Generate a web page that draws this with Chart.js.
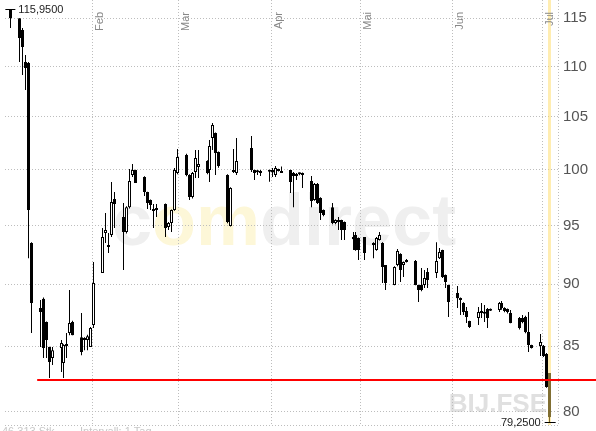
<!DOCTYPE html>
<html>
<head>
<meta charset="utf-8">
<script src="https://cdn.jsdelivr.net/npm/chart.js@4.4.1/dist/chart.umd.min.js"></script>
<style>
  html, body { margin: 0; padding: 0; background: #fff; }
  #wrap { position: relative; width: 596px; height: 431px; }
</style>
</head>
<body>
<div id="wrap"><canvas id="chart"></canvas></div>
<script>
// daily candles, BIJ.FSE
const dates = [
  '2008-01-04',
  '2008-01-07','2008-01-08','2008-01-09','2008-01-10','2008-01-11',
  '2008-01-14','2008-01-15','2008-01-16','2008-01-17','2008-01-18',
  '2008-01-21','2008-01-22','2008-01-23','2008-01-24','2008-01-25',
  '2008-01-28','2008-01-29','2008-01-30','2008-01-31','2008-02-01',
  '2008-02-04','2008-02-05','2008-02-06','2008-02-07','2008-02-08',
  '2008-02-11','2008-02-12','2008-02-13','2008-02-14','2008-02-15',
  '2008-02-18','2008-02-19','2008-02-20','2008-02-21','2008-02-22',
  '2008-02-25','2008-02-26','2008-02-27','2008-02-28','2008-02-29',
  '2008-03-03','2008-03-04','2008-03-05','2008-03-06','2008-03-07',
  '2008-03-10','2008-03-11','2008-03-12','2008-03-13','2008-03-14',
  '2008-03-17','2008-03-18','2008-03-19','2008-03-20',
  '2008-03-25','2008-03-26','2008-03-27','2008-03-28',
  '2008-03-31','2008-04-01','2008-04-02','2008-04-03','2008-04-04',
  '2008-04-07','2008-04-08','2008-04-09','2008-04-10','2008-04-11',
  '2008-04-14','2008-04-15','2008-04-16','2008-04-17','2008-04-18',
  '2008-04-21','2008-04-22','2008-04-23','2008-04-24','2008-04-25',
  '2008-04-28','2008-04-29','2008-04-30','2008-05-02',
  '2008-05-05','2008-05-06','2008-05-07','2008-05-08','2008-05-09',
  '2008-05-12','2008-05-13','2008-05-14','2008-05-15','2008-05-16',
  '2008-05-19','2008-05-20','2008-05-21','2008-05-22','2008-05-23',
  '2008-05-26','2008-05-27','2008-05-28','2008-05-29','2008-05-30',
  '2008-06-02','2008-06-03','2008-06-04','2008-06-05','2008-06-06',
  '2008-06-09','2008-06-10','2008-06-11','2008-06-12','2008-06-13',
  '2008-06-16','2008-06-17','2008-06-18','2008-06-19','2008-06-20',
  '2008-06-23','2008-06-24','2008-06-25','2008-06-26','2008-06-27',
  '2008-06-30','2008-07-01','2008-07-02','2008-07-03'
];
const open = [
  115.95,
  115.00, 113.77, 110.46, 110.35, 93.47,
  88.03, 88.80, 86.90, 84.92, 84.06,
  84.84, 83.68, 85.08, 86.02, 86.90,
  85.70, 85.47, 85.47, 84.92, 86.66,
  90.92, 94.34, 93.13, 94.16, 97.34,
  95.74, 94.43, 96.62, 99.52, 99.98,
  99.34, 97.97, 97.25, 96.45, 96.36,
  96.89, 94.86, 95.21, 96.36, 99.70,
  101.37, 99.52, 97.52, 99.80, 100.26,
  100.81, 99.98, 102.98, 103.45, 101.65,
  99.52, 94.95, 99.98, 99.70,
  102.03, 99.98, 99.90, 99.90,
  99.98, 99.98, 99.52, 100.07, 99.72,
  99.98, 99.70, 99.43, 99.60, 99.70,
  98.97, 97.25, 98.70, 97.43, 96.36,
  96.62, 95.21, 95.47, 95.47, 95.30,
  93.99, 94.16, 93.90, 93.99,
  93.30, 92.87, 93.73, 93.47, 91.59,
  89.92, 91.59, 92.53, 91.59, 91.85,
  91.93, 89.92, 89.92, 89.92, 91.00,
  90.92, 92.18, 92.87, 90.75, 89.92,
  89.26, 88.84, 88.44, 87.79, 86.98,
  87.22, 87.63, 87.71, 87.95, 87.95,
  87.87, 88.44, 88.03, 87.95, 87.63,
  87.22, 87.22, 87.30, 86.10, 85.08,
  85.00, 85.00, 84.37, 82.91
];
const high = [
  115.95,
  115.00, 113.98, 111.17, 110.46, 93.55,
  88.68, 88.90, 86.95, 84.95, 84.92,
  85.47, 85.15, 86.02, 89.50, 87.00,
  87.63, 85.70, 85.90, 86.50, 91.85,
  94.78, 96.09, 94.34, 98.88, 97.97,
  96.98, 96.70, 100.07, 100.54, 100.00,
  99.40, 98.00, 97.30, 96.89, 96.89,
  96.95, 95.30, 96.40, 100.17, 101.93,
  101.50, 99.60, 99.80, 101.84, 101.84,
  100.90, 102.79, 104.41, 103.50, 101.70,
  99.60, 98.40, 101.93, 102.98,
  103.17, 100.00, 99.98, 99.98,
  100.00, 100.17, 100.35, 100.10, 100.30,
  100.00, 99.80, 99.70, 99.75, 99.75,
  99.43, 98.80, 98.80, 97.50, 96.40,
  96.98, 95.55, 95.74, 95.50, 95.35,
  94.43, 94.43, 93.95, 94.00,
  93.55, 94.00, 94.43, 93.55, 91.60,
  91.50, 92.95, 92.60, 91.90, 92.10,
  92.02, 89.95, 91.34, 91.17, 91.34,
  93.55, 93.04, 92.90, 90.80, 89.95,
  89.84, 88.90, 88.50, 88.11, 87.00,
  88.11, 88.44, 88.27, 88.03, 88.00,
  88.52, 88.60, 88.10, 88.00, 87.87,
  87.30, 87.46, 87.40, 87.71, 85.10,
  85.94, 85.08, 84.45, 82.91
];
const low = [
  113.98,
  110.46, 109.14, 107.64, 92.18, 86.02,
  84.92, 84.06, 84.06, 82.53, 83.52,
  82.98, 82.53, 84.06, 85.86, 85.86,
  84.29, 84.68, 84.68, 84.92, 86.42,
  90.92, 93.47, 92.61, 93.99, 94.78,
  91.17, 94.30, 96.50, 99.34, 98.79,
  97.61, 96.45, 96.36, 94.78, 95.74,
  93.99, 94.60, 94.43, 96.30, 99.60,
  99.40, 97.25, 97.40, 99.25, 99.25,
  99.60, 98.88, 101.84, 99.52, 100.20,
  95.20, 94.90, 99.70, 99.52,
  99.80, 99.06, 99.52, 99.43,
  98.90, 99.34, 99.34, 99.85, 99.70,
  97.88, 96.62, 99.06, 99.50, 98.34,
  96.62, 97.20, 96.90, 95.47, 95.80,
  95.10, 95.10, 94.60, 93.73, 93.73,
  92.87, 92.80, 92.02, 92.02,
  92.18, 92.80, 93.70, 90.08, 89.50,
  89.90, 91.50, 90.17, 90.58, 91.80,
  89.90, 88.52, 89.40, 89.67, 89.67,
  90.50, 92.10, 90.50, 89.67, 87.30,
  88.03, 87.46, 87.46, 86.82, 86.42,
  86.66, 87.22, 86.90, 86.42, 87.80,
  87.71, 87.90, 87.70, 87.60, 86.80,
  86.30, 86.80, 86.00, 84.53, 84.80,
  84.22, 84.14, 81.80, 79.25
];
const close = [
  115.00,
  112.93, 111.99, 109.85, 96.36, 88.44,
  87.71, 84.84, 85.47, 83.75, 84.68,
  85.24, 85.08, 85.00, 86.82, 85.86,
  84.53, 85.63, 85.78, 86.42, 90.08,
  93.99, 94.60, 93.30, 97.07, 96.89,
  94.43, 96.62, 98.97, 99.98, 98.79,
  97.97, 96.98, 96.80, 96.27, 96.53,
  94.78, 95.21, 96.36, 99.98, 101.19,
  99.52, 97.52, 99.70, 101.09, 100.54,
  99.70, 102.22, 104.22, 101.56, 100.35,
  95.30, 98.34, 99.80, 100.81,
  99.98, 99.70, 99.78, 99.72,
  99.83, 99.75, 100.17, 99.90, 99.90,
  98.88, 99.43, 99.60, 99.72, 99.52,
  97.16, 98.70, 96.98, 96.09, 95.92,
  95.21, 95.47, 95.30, 94.60, 94.60,
  93.81, 92.87, 92.87, 92.61,
  93.47, 93.90, 94.16, 91.42, 90.08,
  91.42, 92.78, 91.17, 91.85, 92.02,
  89.92, 89.50, 89.50, 90.50, 90.33,
  91.93, 92.70, 90.58, 90.17, 88.52,
  88.84, 88.68, 87.71, 87.30, 86.50,
  87.71, 87.79, 87.58, 87.22, 87.82,
  88.44, 88.03, 87.79, 87.71, 86.82,
  86.42, 86.90, 86.10, 85.08, 84.84,
  85.31, 84.22, 81.84, 79.60
];

const yTicks = [80, 85, 90, 95, 100, 105, 110, 115];
const monthLabels = ['Feb', 'Mar', 'Apr', 'Mai', 'Jun', 'Jul'];
const monthStarts = ['2008-02-01', '2008-03-01', '2008-04-01', '2008-05-01', '2008-06-01', '2008-07-01'];
const supportLevel = 82.37;
const supportFrom = '2008-01-13';
const symbol = 'BIJ.FSE';

const FONT = "'Liberation Sans', Arial, sans-serif";
Chart.defaults.font.family = FONT;

// days since 2008-02-01
const dayOf = (s) => {
  const p = s.split('-').map(Number);
  return (Date.UTC(p[0], p[1] - 1, p[2]) - Date.UTC(2008, 1, 1)) / 864e5;
};
const xs = dates.map(d => dayOf(d) + 0.5);
const fmt = v => v.toFixed(4).replace('.', ',');

const bodyFill = open.map((o, i) => close[i] >= o ? '#ffffff' : '#000000');

const overlay = {
  id: 'overlay',
  afterDatasetsUpdate(chart) {
    // snap candle centres to the pixel grid so the 1px wicks stay crisp
    chart.data.datasets.forEach((ds, i) => {
      chart.getDatasetMeta(i).data.forEach(el => { el.x = Math.floor(el.x) + 0.5; });
    });
  },
  beforeDraw(chart) {
    const {ctx} = chart;
    ctx.save();
    // watermarks
    ctx.font = 'bold 72px ' + FONT;
    ctx.textBaseline = 'alphabetic';
    ctx.textAlign = 'left';
    let x = 112;
    [['c', '#efefef'], ['om', '#fdf7d8'], ['direct', '#efefef']].forEach(p => {
      ctx.fillStyle = p[1];
      ctx.fillText(p[0], x, 245);
      x += ctx.measureText(p[0]).width;
    });
    ctx.font = 'bold 26px ' + FONT;
    ctx.fillStyle = '#e0e0e0';
    ctx.textAlign = 'right';
    ctx.fillText(symbol, 547, 412);
    ctx.restore();
  },
  afterDatasetsDraw(chart) {
    const {ctx, chartArea} = chart;
    const xS = chart.scales.x, yS = chart.scales.y;
    ctx.save();

    // highlight of last day
    const last = xs.length - 1;
    const lx = Math.floor(xS.getPixelForValue(xs[last])) + 0.5;
    ctx.fillStyle = 'rgba(255,220,100,0.5)';
    ctx.fillRect(lx - 1.5, chartArea.top, 3, chartArea.bottom - chartArea.top);

    // support line
    const ry = yS.getPixelForValue(supportLevel);
    ctx.strokeStyle = '#ff0000';
    ctx.lineWidth = 2;
    ctx.beginPath();
    ctx.moveTo(xS.getPixelForValue(dayOf(supportFrom) + 0.5), ry);
    ctx.lineTo(chart.width, ry);
    ctx.stroke();

    // high / low marks
    const hi = high.indexOf(Math.max(...high));
    const lo = low.indexOf(Math.min(...low));
    ctx.strokeStyle = '#000';
    ctx.lineWidth = 1;
    ctx.fillStyle = '#222';
    ctx.font = '11px ' + FONT;
    ctx.textBaseline = 'middle';
    let hx = xS.getPixelForValue(xs[hi]), hy = Math.round(yS.getPixelForValue(high[hi])) + 0.5;
    ctx.beginPath(); ctx.moveTo(hx - 5, hy); ctx.lineTo(hx + 5, hy); ctx.stroke();
    ctx.textAlign = 'left';
    ctx.fillText(fmt(high[hi]), hx + 8, hy);
    let bx = xS.getPixelForValue(xs[lo]), by = Math.round(yS.getPixelForValue(low[lo])) + 0.5;
    ctx.beginPath(); ctx.moveTo(bx - 5, by); ctx.lineTo(bx + 6, by); ctx.stroke();
    ctx.textAlign = 'right';
    ctx.fillText(fmt(low[lo]), bx - 9, by);

    // month labels
    ctx.fillStyle = '#888';
    ctx.font = '11px ' + FONT;
    monthStarts.forEach((m, i) => {
      const gx = xS.getPixelForValue(dayOf(m));
      ctx.save();
      ctx.translate(gx + 2, 12);
      ctx.rotate(-Math.PI / 2);
      ctx.textAlign = 'right';
      ctx.textBaseline = 'top';
      ctx.fillText(monthLabels[i], 0, 0);
      ctx.restore();
    });

    // footer (cut off by the frame)
    ctx.fillStyle = '#c8c8c8';
    ctx.font = '11px ' + FONT;
    ctx.textAlign = 'left';
    ctx.textBaseline = 'top';
    ctx.fillText('46.313 Stk.', 2, 426);
    ctx.fillText('Intervall: 1 Tag', 80, 426);
    ctx.restore();
  }
};

const gridColor = '#bdbdbd';
const noPad = s => { s.paddingTop = 0; s.paddingBottom = 0; s.paddingLeft = 0; s.paddingRight = 0; };

new Chart(document.getElementById('chart'), {
  type: 'bar',
  data: {
    datasets: [
      {
        label: 'body',
        data: xs.map((x, i) => ({x: x, y: [open[i], close[i]]})),
        backgroundColor: bodyFill,
        borderColor: '#000',
        borderWidth: 1,
        borderSkipped: false,
        barThickness: 3,
        minBarLength: 2,
        inflateAmount: 0,
        grouped: false
      },
      {
        label: 'wick',
        data: xs.map((x, i) => ({x: x, y: [low[i], high[i]]})),
        backgroundColor: '#000',
        borderWidth: 0,
        barThickness: 1,
        inflateAmount: 0,
        grouped: false
      }
    ]
  },
  options: {
    responsive: true,
    maintainAspectRatio: false,
    animation: false,
    layout: {padding: {left: 5, top: 0, right: 0, bottom: 0}},
    plugins: {legend: {display: false}, tooltip: {enabled: false}},
    scales: {
      x: {
        type: 'linear',
        min: -29.3,
        max: 156.3,
        offset: false,
        afterBuildTicks: s => {
          s.ticks = monthStarts.map(m => ({value: dayOf(m)})).concat([{value: s.max}]);
        },
        afterFit: s => { s.height = 6; noPad(s); },
        ticks: {display: false},
        grid: {color: gridColor, drawTicks: false, offset: false, borderDash: [1, 2]},
        border: {display: false, dash: [1, 2]}
      },
      y: {
        type: 'logarithmic',
        position: 'right',
        min: 79.03,
        max: 116.96,
        beginAtZero: false,
        afterBuildTicks: s => {
          s.ticks = [{value: s.min}].concat(yTicks.map(v => ({value: v})));
        },
        afterFit: s => { s.width = 38; noPad(s); },
        ticks: {
          autoSkip: false,
          padding: 5,
          color: '#555',
          font: {size: 15},
          callback: v => yTicks.includes(v) ? String(v) : ''
        },
        grid: {color: gridColor, drawTicks: false, borderDash: [1, 2]},
        border: {display: false, dash: [1, 2]}
      }
    }
  },
  plugins: [overlay]
});
</script>
</body>
</html>
